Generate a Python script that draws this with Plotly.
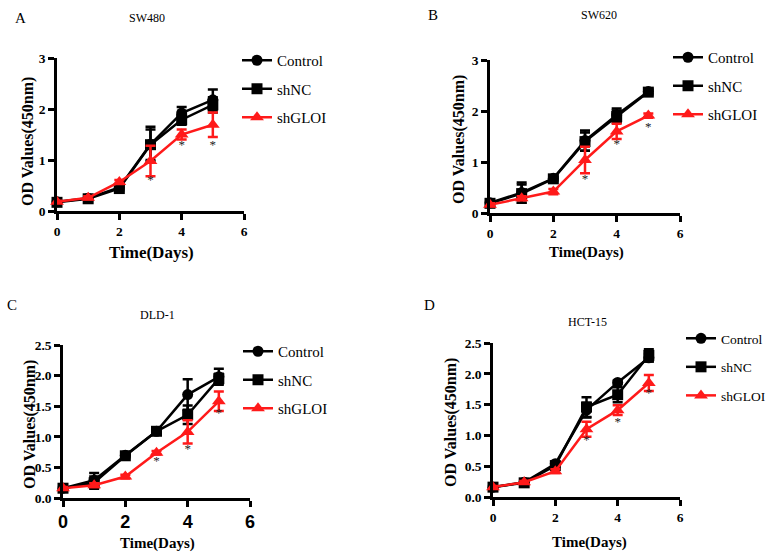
import plotly.graph_objects as go

days = [0, 1, 2, 3, 4, 5]
star_days = [3, 4, 5]

# Panel A: SW480
a_ctrl = [0.18, 0.25, 0.46, 1.31, 1.92, 2.18]
a_ctrl_err = [0.02, 0.03, 0.04, 0.34, 0.12, 0.20]
a_shnc = [0.17, 0.24, 0.44, 1.30, 1.79, 2.08]
a_shnc_err = [0.02, 0.03, 0.05, 0.30, 0.10, 0.15]
a_glo = [0.18, 0.26, 0.57, 0.98, 1.50, 1.69]
a_glo_err = [0.02, 0.03, 0.04, 0.30, 0.10, 0.24]
a_star = [0.59, 1.28, 1.28]

# Panel B: SW620
b_ctrl = [0.20, 0.40, 0.68, 1.42, 1.92, 2.38]
b_ctrl_err = [0.03, 0.20, 0.04, 0.20, 0.13, 0.05]
b_shnc = [0.19, 0.38, 0.67, 1.40, 1.89, 2.37]
b_shnc_err = [0.03, 0.18, 0.04, 0.18, 0.12, 0.05]
b_glo = [0.16, 0.29, 0.42, 1.04, 1.60, 1.91]
b_glo_err = [0.03, 0.04, 0.05, 0.26, 0.15, 0.04]
b_star = [0.65, 1.34, 1.68]

# Panel C: DLD-1
c_ctrl = [0.16, 0.29, 0.70, 1.09, 1.69, 1.98]
c_ctrl_err = [0.02, 0.12, 0.03, 0.03, 0.25, 0.13]
c_shnc = [0.16, 0.25, 0.69, 1.09, 1.36, 1.95]
c_shnc_err = [0.02, 0.10, 0.03, 0.03, 0.15, 0.08]
c_glo = [0.16, 0.21, 0.35, 0.74, 1.08, 1.58]
c_glo_err = [0.02, 0.03, 0.03, 0.03, 0.19, 0.16]
c_star = [0.59, 0.79, 1.38]

# Panel D: HCT-15
d_ctrl = [0.16, 0.24, 0.54, 1.41, 1.86, 2.26]
d_ctrl_err = [0.02, 0.02, 0.03, 0.12, 0.03, 0.06]
d_shnc = [0.16, 0.23, 0.51, 1.46, 1.66, 2.30]
d_shnc_err = [0.02, 0.02, 0.03, 0.16, 0.12, 0.10]
d_glo = [0.16, 0.24, 0.42, 1.10, 1.41, 1.85]
d_glo_err = [0.02, 0.02, 0.03, 0.12, 0.08, 0.13]
d_star = [0.92, 1.21, 1.67]

panel_letters = ["A", "B", "C", "D"]
panel_titles = ["SW480", "SW620", "DLD-1", "HCT-15"]
series_names = ["Control", "shNC", "shGLOI"]
x_title = "Time(Days)"
y_title = "OD Values(450nm)"

W, H = 768, 555
SERIF = "Liberation Serif"
SANS = "Liberation Sans"


def px_x(p):
    return p / W


def px_y(p):
    return 1 - p / H


panels = [
    dict(data=[(a_ctrl, a_ctrl_err), (a_shnc, a_shnc_err), (a_glo, a_glo_err)], star=a_star,
         xd=(57, 244), yd=(211, 58), yr=[0, 3], ytv=[0, 1, 2, 3], ytt=["0", "1", "2", "3"],
         leg=(237, 44), legsize=15, legap=6, letter=(20, 18), title=(147, 18), xt=(151, 252, 17),
         yt=(28, 142), xtickfont=dict(family=SERIF, size=13.5, color="black", weight="bold")),
    dict(data=[(b_ctrl, b_ctrl_err), (b_shnc, b_shnc_err), (b_glo, b_glo_err)], star=b_star,
         xd=(490, 680), yd=(213, 60), yr=[0, 3], ytv=[0, 1, 2, 3], ytt=["0", "1", "2", "3"],
         leg=(668, 41), legsize=15, legap=6, letter=(433, 15), title=(599, 15), xt=(586, 252, 15),
         yt=(459, 140), xtickfont=dict(family=SERIF, size=13.5, color="black", weight="bold")),
    dict(data=[(c_ctrl, c_ctrl_err), (c_shnc, c_shnc_err), (c_glo, c_glo_err)], star=c_star,
         xd=(63, 250), yd=(498, 345), yr=[0, 2.5], ytv=[0, 0.5, 1, 1.5, 2, 2.5],
         ytt=["0.0", "0.5", "1.0", "1.5", "2.0", "2.5"],
         leg=(238, 335), legsize=15, legap=6, letter=(12, 305), title=(157, 315), xt=(157, 543, 15),
         yt=(30, 425), xtickfont=dict(family=SANS, size=18, color="black", weight="bold")),
    dict(data=[(d_ctrl, d_ctrl_err), (d_shnc, d_shnc_err), (d_glo, d_glo_err)], star=d_star,
         xd=(493, 680), yd=(497, 343), yr=[0, 2.5], ytv=[0, 0.5, 1, 1.5, 2, 2.5],
         ytt=["0.0", "0.5", "1.0", "1.5", "2.0", "2.5"],
         leg=(681, 323), legsize=13.5, legap=8, letter=(429, 305), title=(587, 322), xt=(589, 542, 15),
         yt=(451, 423), xtickfont=dict(family=SERIF, size=13.5, color="black", weight="bold")),
]

styles = [
    dict(color="black", symbol="circle", size=11),
    dict(color="black", symbol="square", size=11),
    dict(color="#ff1a1a", symbol="triangle-up", size=12),
]

fig = go.Figure()
layout = dict(width=W, height=H, margin=dict(l=0, r=0, t=0, b=0, autoexpand=False),
              paper_bgcolor="white", plot_bgcolor="white", showlegend=True,
              hovermode=False, font=dict(family=SERIF, color="black"))
annotations = []

for i, p in enumerate(panels):
    n = i + 1
    xa = "x" if n == 1 else f"x{n}"
    ya = "y" if n == 1 else f"y{n}"
    lg = "legend" if n == 1 else f"legend{n}"
    for j, (vals, errs) in enumerate(p["data"]):
        st = styles[j]
        fig.add_trace(go.Scatter(
            x=days, y=vals, name=series_names[j], xaxis=xa, yaxis=ya,
            mode="lines+markers", legend=lg, legendgroup=f"{n}-{j}",
            line=dict(color=st["color"], width=2.5),
            marker=dict(color=st["color"], symbol=st["symbol"], size=st["size"]),
            error_y=dict(type="data", array=errs, color=st["color"], thickness=2.5, width=5),
            cliponaxis=False,
        ))
    fig.add_trace(go.Scatter(
        x=star_days, y=p["star"], xaxis=xa, yaxis=ya, mode="text", text=["*"] * 3,
        textfont=dict(family=SERIF, size=13, color="#222222"), showlegend=False,
        cliponaxis=False, hoverinfo="skip",
    ))
    axis_common = dict(showline=True, linecolor="black", linewidth=2.5, ticks="outside",
                       ticklen=6, tickwidth=2.5, tickcolor="black", showgrid=False,
                       zeroline=False, fixedrange=True, automargin=False)
    layout["xaxis" if n == 1 else f"xaxis{n}"] = dict(
        domain=[px_x(p["xd"][0]), px_x(p["xd"][1])], anchor=ya, range=[0, 6],
        tickvals=[0, 2, 4, 6], ticktext=["0", "2", "4", "6"], tickfont=p["xtickfont"],
        **axis_common)
    layout["yaxis" if n == 1 else f"yaxis{n}"] = dict(
        domain=[px_y(p["yd"][0]), px_y(p["yd"][1])], anchor=xa, range=p["yr"],
        tickvals=p["ytv"], ticktext=p["ytt"],
        tickfont=dict(family=SERIF, size=13.5, color="black", weight="bold"), **axis_common)
    layout[lg] = dict(x=px_x(p["leg"][0]), y=px_y(p["leg"][1]), xanchor="left", yanchor="top",
                      font=dict(family=SERIF, size=p["legsize"], color="black"),
                      bgcolor="rgba(0,0,0,0)", tracegroupgap=p["legap"],
                      itemclick=False, itemdoubleclick=False)
    annotations.append(dict(text=panel_letters[i], x=px_x(p["letter"][0]), y=px_y(p["letter"][1]),
                            xref="paper", yref="paper", showarrow=False, xanchor="center",
                            yanchor="middle", font=dict(family=SERIF, size=15, color="black")))
    annotations.append(dict(text=panel_titles[i], x=px_x(p["title"][0]), y=px_y(p["title"][1]),
                            xref="paper", yref="paper", showarrow=False, xanchor="center",
                            yanchor="middle", font=dict(family=SERIF, size=12, color="black")))
    annotations.append(dict(text=x_title, x=px_x(p["xt"][0]), y=px_y(p["xt"][1]),
                            xref="paper", yref="paper", showarrow=False, xanchor="center",
                            yanchor="middle",
                            font=dict(family=SERIF, size=p["xt"][2], color="black", weight="bold")))
    annotations.append(dict(text=y_title, x=px_x(p["yt"][0]), y=px_y(p["yt"][1]),
                            xref="paper", yref="paper", showarrow=False, xanchor="center",
                            yanchor="middle", textangle=-90,
                            font=dict(family=SERIF, size=16, color="black", weight="bold")))

layout["annotations"] = annotations
fig.update_layout(**layout)
fig.write_html("out.html", config={"displayModeBar": False},
               post_script="document.body.style.margin='0';")
